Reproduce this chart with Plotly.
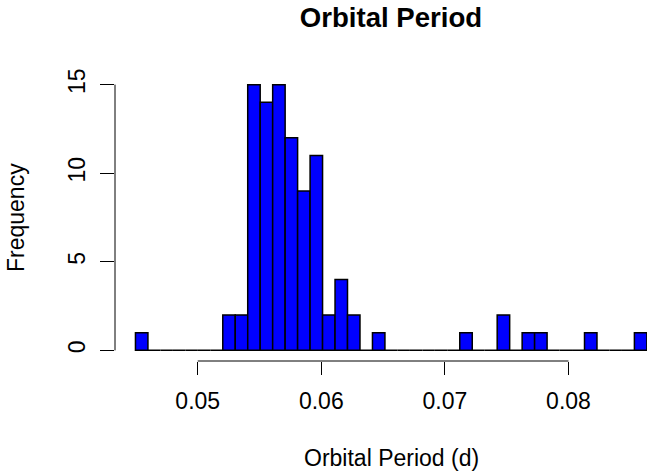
import plotly.graph_objects as go

# histogram of orbital periods (days), counts
bin_start = 0.04496
bin_width = 0.0010094
counts = [1, 0, 0, 0, 0, 0, 0, 2, 2, 15, 14, 15, 12, 9, 11, 2, 4, 2, 0, 1,
          0, 0, 0, 0, 0, 0, 1, 0, 0, 2, 0, 1, 1, 0, 0, 0, 1, 0, 0, 0, 1]
x_ticks = [0.05, 0.06, 0.07, 0.08]
y_ticks = [0, 5, 10, 15]

edges = [bin_start + i * bin_width for i in range(len(counts) + 1)]
centers = [(edges[i] + edges[i + 1]) / 2 for i in range(len(counts))]
span = edges[-1] - edges[0]

font = "Liberation Sans, Arial, sans-serif"

fig = go.Figure(go.Bar(
    x=centers, y=counts, width=bin_width,
    marker=dict(color="#0000FF", line=dict(color="black", width=1.5)),
))

fig.update_layout(
    width=647, height=474,
    margin=dict(l=115, r=0, t=74, b=113),
    plot_bgcolor="white", paper_bgcolor="white",
    showlegend=False,
    font=dict(family=font, size=23, color="black"),
    title=dict(text="<b>Orbital Period</b>", font=dict(size=27.6),
               x=391 / 647, xanchor="center", xref="container",
               y=1 - 17 / 474, yanchor="middle", yref="container"),
)
fig.update_xaxes(
    range=[edges[0] - 0.04 * span, edges[-1] + 0.00001],
    tickvals=x_ticks, ticktext=[f"{v:.2f}" for v in x_ticks],
    ticks="outside", ticklen=13, tickwidth=1, tickcolor="black",
    showline=False, showgrid=False, zeroline=False,
    ticklabelstandoff=6,
)
fig.update_yaxes(
    range=[-0.04 * max(counts), max(counts) * 1.04],
    tickvals=y_ticks, ticks="outside", ticklen=14, tickwidth=1, tickcolor="black",
    tickangle=-90,
    showline=False, showgrid=False, zeroline=False,
    ticklabelstandoff=6,
)

# R-style axis lines that only span the tick range
fig.add_shape(type="line", xref="x", yref="paper", x0=x_ticks[0], x1=x_ticks[-1],
              y0=0, y1=0, line=dict(color="black", width=1))
fig.add_shape(type="line", xref="paper", yref="y", x0=0, x1=0,
              y0=y_ticks[0], y1=y_ticks[-1], line=dict(color="black", width=1))

fig.add_annotation(text="Orbital Period (d)", xref="paper", yref="paper",
                   x=(391 - 115) / 532, y=-(458 - 361) / 287,
                   showarrow=False, xanchor="center", yanchor="middle")
fig.add_annotation(text="Frequency", xref="paper", yref="paper",
                   x=-(115 - 15.5) / 532, y=0.5, textangle=-90,
                   showarrow=False, xanchor="center", yanchor="middle")

# drop the browser's default body margin so the figure sits at the page corner
fig.write_html("out.html", config={"displayModeBar": False},
               post_script="document.body.style.margin='0';")
